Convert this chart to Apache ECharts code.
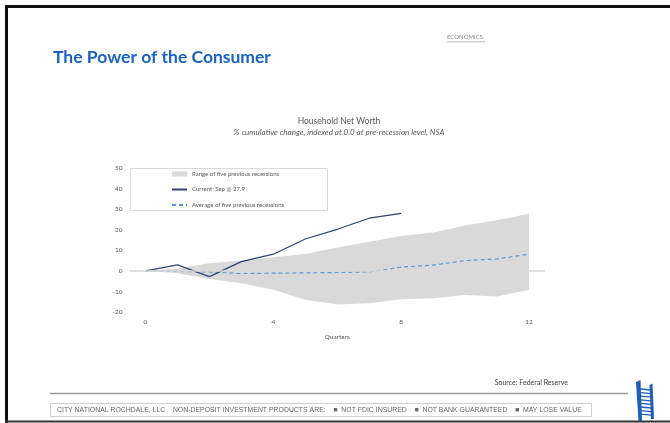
<!DOCTYPE html>
<html>
<head>
<meta charset="utf-8">
<script src="https://cdn.jsdelivr.net/npm/echarts@6/dist/echarts.min.js"></script>
<style>
html,body{margin:0;padding:0;background:#fff;}
#chart{width:670px;height:423px;}
</style>
</head>
<body>
<div id="chart"></div>
<script>
// ---- data ----
const quarters = ['0','1','2','3','4','5','6','7','8','9','10','11','12'];
const current = [0, 2.9, -2.8, 4.5, 8.1, 15.5, 20.2, 25.6, 27.9];
const average = [0, -0.3, -0.5, -1.3, -1.1, -1.0, -0.8, -0.5, 1.8, 2.8, 5.0, 5.8, 8.1];
const rangeHigh = [0, 1.2, 3.7, 5.0, 6.6, 8.2, 11.3, 14.2, 17.0, 18.6, 22.0, 24.6, 27.7];
const rangeLow = [0, -1.2, -4.0, -6.0, -9.2, -14.0, -16.3, -15.7, -13.8, -13.3, -11.7, -12.5, -9.2];
const yTicks = {min: -20, max: 50, interval: 10};

const NAME_RANGE = 'Range of five previous recessions';
const NAME_CUR = 'Current: Sep @ 27.9';
const NAME_AVG = 'Average of five previous recessions';

const band = rangeHigh.map((h, i) => +(h - rangeLow[i]).toFixed(2));

const FONT = 'Lato';
const chart = echarts.init(document.getElementById('chart'), null, {renderer: 'canvas'});

// ladder logo rungs
const rungs = [];
for (let k = 0; k < 8; k++) {
  const y = 389 + k * 3.6;
  rungs.push({type: 'line', shape: {x1: 640.5, y1: y, x2: 651, y2: y + 1}, style: {stroke: '#1f5fb3', lineWidth: 1.3}});
}

chart.setOption({
  animation: false,
  textStyle: {fontFamily: FONT},
  title: [
    {text: 'The Power of the Consumer', left: 53, top: 48, padding: 0,
     textStyle: {fontFamily: FONT, fontSize: 17.5, fontWeight: 'bold', color: '#1c63bd'}},
    {text: 'Household Net Worth', left: 339, top: 117, textAlign: 'center', padding: 0,
     subtext: '% cumulative change, indexed at 0.0 at pre-recession level, NSA', itemGap: 2,
     textStyle: {fontFamily: FONT, fontSize: 8.5, fontWeight: 'normal', color: '#595959'},
     subtextStyle: {fontFamily: FONT, fontSize: 8, fontStyle: 'italic', color: '#595959'}},
    {text: 'ECONOMICS', left: 447, top: 34, padding: 0,
     textStyle: {fontFamily: FONT, fontSize: 6, fontWeight: 'normal', color: '#8c8c8c'}}
  ],
  legend: {
    orient: 'vertical', left: 171, top: 171, padding: 0,
    itemWidth: 15, itemHeight: 5, itemGap: 9.5,
    textStyle: {fontFamily: FONT, fontSize: 6, color: '#595959'},
    data: [
      {name: NAME_RANGE, icon: 'rect'},
      {name: NAME_CUR, itemStyle: {opacity: 0}},
      {name: NAME_AVG, itemStyle: {opacity: 0}}
    ]
  },
  grid: {left: 129.5, right: 125, top: 168, bottom: 111, containLabel: false},
  xAxis: {
    type: 'category', data: quarters, boundaryGap: true,
    axisLine: {show: false}, axisTick: {show: false},
    axisLabel: {interval: 3, color: '#595959', fontSize: 6.5, margin: 6, fontFamily: FONT},
    name: 'Quarters', nameLocation: 'middle', nameGap: 21,
    nameTextStyle: {color: '#595959', fontSize: 6.5, fontFamily: FONT}
  },
  yAxis: {
    type: 'value', min: yTicks.min, max: yTicks.max, interval: yTicks.interval,
    axisLine: {show: false}, axisTick: {show: false}, splitLine: {show: false},
    axisLabel: {color: '#595959', fontSize: 6.5, margin: 7, fontFamily: FONT}
  },
  series: [
    {name: 'rangeBase', type: 'line', data: rangeLow, stack: 'range', stackStrategy: 'all',
     symbol: 'none', lineStyle: {width: 0, opacity: 0}, silent: true, z: 1,
     markLine: {symbol: 'none', silent: true, label: {show: false},
       lineStyle: {color: '#d9d9d9', width: 1.5, type: 'solid'}, data: [{yAxis: 0}]}},
    {name: NAME_RANGE, type: 'line', data: band, stack: 'range', stackStrategy: 'all',
     symbol: 'none', color: '#d9d9d9', lineStyle: {width: 0, opacity: 0},
     areaStyle: {color: '#d9d9d9', opacity: 1}, itemStyle: {color: '#d9d9d9'}, silent: true, z: 2},
    {name: NAME_AVG, type: 'line', data: average, symbol: 'none', color: '#5b9bd5',
     lineStyle: {color: '#5b9bd5', width: 1.2, type: [4, 3]}, z: 3},
    {name: NAME_CUR, type: 'line', data: current, symbol: 'none', color: '#2e4470',
     lineStyle: {color: '#2e4470', width: 1.2}, z: 4}
  ],
  graphic: [
    // slide border
    {type: 'rect', shape: {x: 5, y: 5, width: 665, height: 3}, style: {fill: '#111'}},
    {type: 'rect', shape: {x: 5, y: 5, width: 3, height: 418}, style: {fill: '#111'}},
    {type: 'rect', shape: {x: 5, y: 420.5, width: 665, height: 2}, style: {fill: '#333'}},
    // ECONOMICS underline
    {type: 'line', shape: {x1: 447, y1: 41.8, x2: 485, y2: 41.8}, style: {stroke: '#8c8c8c', lineWidth: 0.6}},
    // legend box
    {type: 'rect', shape: {x: 130.5, y: 168.5, width: 197, height: 42}, style: {fill: 'none', stroke: '#d9d9d9', lineWidth: 1}, z: 10},
    // source + separator
    {type: 'text', style: {text: 'Source: Federal Reserve', x: 568, y: 383, align: 'right', verticalAlign: 'middle',
      font: '7px Lato', fill: '#404040'}},
    {type: 'line', shape: {x1: 50, y1: 393.5, x2: 628, y2: 393.5}, style: {stroke: '#999', lineWidth: 1.5}},
    // disclaimer box
    {type: 'rect', shape: {x: 50.5, y: 403.5, width: 541, height: 13}, style: {fill: '#fff', stroke: '#cfcfcf', lineWidth: 1}},
    {type: 'text', style: {text: 'CITY NATIONAL ROCHDALE, LLC    NON-DEPOSIT INVESTMENT PRODUCTS ARE:    \u25A0  NOT FDIC INSURED    \u25A0  NOT BANK GUARANTEED    \u25A0  MAY LOSE VALUE',
      x: 57, y: 410.5, verticalAlign: 'middle', font: '6.9px "Liberation Sans"', fill: '#666'}},
    // logo ladder
    {type: 'polygon', shape: {points: [[636, 382], [640.5, 380], [642, 421], [638.5, 421]]}, style: {fill: '#1f5fb3'}},
    {type: 'polygon', shape: {points: [[649.5, 385], [652.5, 383.5], [654, 419], [651, 419]]}, style: {fill: '#1f5fb3'}},
    ...rungs
  ]
});
</script>
</body>
</html>
